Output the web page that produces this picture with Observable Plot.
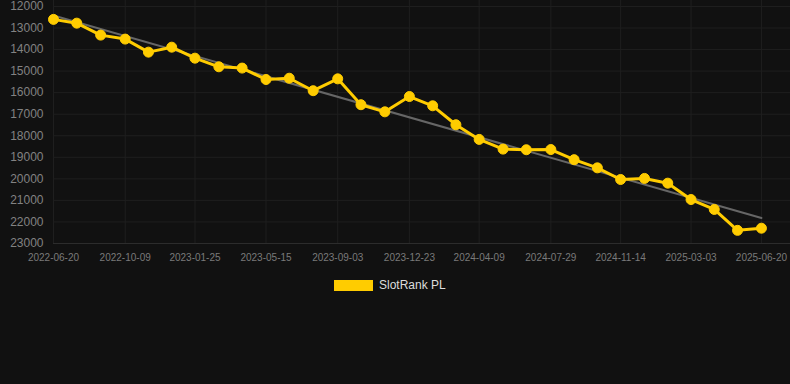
<!DOCTYPE html>
<html>
<head>
<meta charset="utf-8">
<script src="https://cdn.jsdelivr.net/npm/d3@7"></script>
<script src="https://cdn.jsdelivr.net/npm/@observablehq/plot@0.6"></script>
<style>
  html, body { margin: 0; padding: 0; background: #111111; }
  #chart { width: 790px; height: 384px; position: relative; background: #111111; font-family: Arial, "Liberation Sans", sans-serif; }
  #legend { position: absolute; left: 334px; top: 278px; display: flex; align-items: center; gap: 6px; color: #dddddd; font-size: 12px; }
  #legend .sw { width: 39px; height: 11px; background: #ffcc00; }
</style>
</head>
<body>
<div id="chart"><div id="legend"><span class="sw"></span><span>SlotRank PL</span></div></div>
<script>
const dates = ["2022-06-20","2022-07-26","2022-09-01","2022-10-09","2022-11-14","2022-12-20","2023-01-25","2023-03-03","2023-04-08","2023-05-15","2023-06-20","2023-07-27","2023-09-03","2023-10-09","2023-11-15","2023-12-23","2024-01-28","2024-03-04","2024-04-09","2024-05-16","2024-06-21","2024-07-29","2024-09-03","2024-10-09","2024-11-14","2024-12-21","2025-01-26","2025-03-03","2025-04-08","2025-05-14","2025-06-20"];
const ranks = [12600,12775,13330,13515,14120,13890,14400,14800,14860,15390,15330,15910,15360,16560,16890,16180,16610,17490,18170,18620,18650,18640,19110,19490,20030,19980,20200,20960,21420,22390,22290];
const trendDates = ["2022-06-20","2025-06-20"];
const trendValues = [12420,21820];
const xTicks = ["2022-06-20","2022-10-09","2023-01-25","2023-05-15","2023-09-03","2023-12-23","2024-04-09","2024-07-29","2024-11-14","2025-03-03","2025-06-20"];
const yTicks = [12000,13000,14000,15000,16000,17000,18000,19000,20000,21000,22000,23000];
const seriesName = "SlotRank PL";

const parse = d3.utcParse("%Y-%m-%d");
const data = dates.map((d, i) => ({date: parse(d), rank: ranks[i]}));
const trend = trendDates.map((d, i) => ({date: parse(d), rank: trendValues[i]}));
const xt = xTicks.map(parse);
const fmt = d3.utcFormat("%Y-%m-%d");

const chart = Plot.plot({
  width: 790,
  height: 270,
  marginLeft: 53,
  marginRight: 0,
  marginTop: 0,
  marginBottom: 27,
  style: {background: "#111111", fontFamily: "Arial, 'Liberation Sans', sans-serif", overflow: "visible"},
  x: {type: "utc", domain: [parse("2022-06-20"), parse("2025-08-04")], label: null},
  y: {domain: [11724, 23000], reverse: true, label: null},
  marks: [
    Plot.gridX(xt, {stroke: "#1f1f1f", strokeOpacity: 1, strokeWidth: 1}),
    Plot.gridY(yTicks, {stroke: "#1f1f1f", strokeOpacity: 1, strokeWidth: 1}),
    Plot.ruleY([23000], {stroke: "#2c2c2c"}),
    Plot.axisY(yTicks, {tickSize: 0, tickPadding: 10, fontSize: 12, fill: "#828282", label: null, tickFormat: d => String(d)}),
    Plot.axisX(xt, {tickSize: 0, tickPadding: 10, fontSize: 10, fill: "#7a7a7a", label: null, tickFormat: fmt}),
    Plot.line(trend, {x: "date", y: "rank", stroke: "#666666", strokeWidth: 2}),
    Plot.line(data, {x: "date", y: "rank", stroke: "#ffcc00", strokeWidth: 3}),
    Plot.dot(data, {x: "date", y: "rank", r: 5, fill: "#ffcc00", stroke: "#ffcc00", strokeWidth: 1})
  ]
});
document.getElementById("chart").prepend(chart);
</script>
</body>
</html>
